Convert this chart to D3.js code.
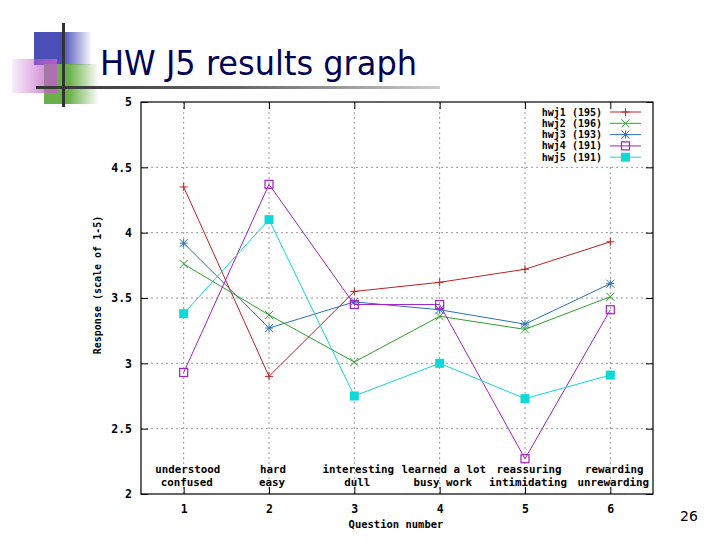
<!DOCTYPE html>
<html><head><meta charset="utf-8">
<script src="https://cdn.jsdelivr.net/npm/d3@7"></script>
<style>body{margin:0;background:#fff;}svg{display:block;}</style>
</head><body>
<svg id="c" width="720" height="540"></svg>
<script>
const questions = [1, 2, 3, 4, 5, 6];
const topLabels = ["understood", "hard", "interesting", "learned a lot", "reassuring", "rewarding"];
const bottomLabels = ["confused", "easy", "dull", "busy work", "intimidating", "unrewarding"];
const yTicks = [2, 2.5, 3, 3.5, 4, 4.5, 5];
const seriesNames = ["hwj1 (195)", "hwj2 (196)", "hwj3 (193)", "hwj4 (191)", "hwj5 (191)"];
const hwj1 = [4.35, 2.90, 3.55, 3.62, 3.72, 3.93];
const hwj2 = [3.76, 3.37, 3.01, 3.36, 3.26, 3.51];
const hwj3 = [3.92, 3.27, 3.47, 3.41, 3.30, 3.61];
const hwj4 = [2.93, 4.37, 3.45, 3.45, 2.27, 3.41];
const hwj5 = [3.38, 4.10, 2.75, 3.00, 2.73, 2.91];
const colors = ["#c02020", "#30a030", "#2a70b8", "#a020c0", "#10d8d8"];
const markers = ["plus", "cross", "star", "square", "fsquare"];

const svg = d3.select("#c");
const defs = svg.append("defs");
function grad(id, stops) {
  const g = defs.append("linearGradient").attr("id", id).attr("x1", "0").attr("x2", "1").attr("y1", "0").attr("y2", "0");
  stops.forEach(s => g.append("stop").attr("offset", s[0]).attr("stop-color", s[1]).attr("stop-opacity", s[2]));
}
grad("gblue", [[0, "#4a4fb8", 1], [0.5, "#4a4fb8", 1], [1, "#4a4fb8", 0]]);
grad("ggreen", [[0, "#6ab04a", 1], [0.45, "#6ab04a", 1], [1, "#6ab04a", 0]]);
grad("gpink", [[0, "#c060c8", 0.1], [1, "#c060c8", 0.9]]);
grad("gline", [[0, "#333", 1], [0.5, "#666", 1], [1, "#ccc", 1]]);

// decoration
svg.append("rect").attr("x", 34).attr("y", 32).attr("width", 58).attr("height", 33).attr("fill", "url(#gblue)");
svg.append("rect").attr("x", 44).attr("y", 64).attr("width", 55).attr("height", 40).attr("fill", "url(#ggreen)");
svg.append("rect").attr("x", 12).attr("y", 59).attr("width", 45).attr("height", 34).attr("fill", "url(#gpink)");
svg.append("rect").attr("x", 36).attr("y", 86).attr("width", 404).attr("height", 3).attr("fill", "url(#gline)");
svg.append("rect").attr("x", 62).attr("y", 23).attr("width", 3).attr("height", 84).attr("fill", "#333");

svg.append("text").attr("x", 100).attr("y", 75).attr("font-family", "DejaVu Sans, Verdana, sans-serif")
  .attr("font-size", 34).attr("fill", "#000055").attr("textLength", 317).attr("lengthAdjust", "spacingAndGlyphs")
  .text("HW J5 results graph");

svg.append("text").attr("x", 689).attr("y", 521).attr("text-anchor", "middle")
  .attr("font-family", "DejaVu Sans, sans-serif").attr("font-size", 14).attr("fill", "#000").text("26");

const L = 141, R = 653, T = 102, B = 494;
const x = d3.scaleLinear().domain([0.5, 6.5]).range([L, R]);
const y = d3.scaleLinear().domain([2, 5]).range([B, T]);
const mono = "DejaVu Sans Mono, Liberation Mono, monospace";

// grid
const g = svg.append("g");
g.selectAll(".gy").data(yTicks.slice(1, -1)).join("line")
  .attr("x1", L).attr("x2", R).attr("y1", d => y(d)).attr("y2", d => y(d))
  .attr("stroke", "#999").attr("stroke-dasharray", "2,3");
g.selectAll(".gx").data(questions).join("line")
  .attr("x1", d => x(d)).attr("x2", d => x(d)).attr("y1", T).attr("y2", B)
  .attr("stroke", "#999").attr("stroke-dasharray", "2,3");

// legend background
svg.append("rect").attr("x", 531).attr("y", T + 1).attr("width", R - 532).attr("height", 62).attr("fill", "#fff");

// axes
const axL = svg.append("g").attr("transform", `translate(${L},0)`)
  .call(d3.axisLeft(y).tickValues(yTicks).tickSize(-7).tickPadding(9).tickFormat(d => String(d)));
const axR = svg.append("g").attr("transform", `translate(${R},0)`)
  .call(d3.axisRight(y).tickValues(yTicks).tickSize(-7).tickFormat(""));
const axB = svg.append("g").attr("transform", `translate(0,${B})`)
  .call(d3.axisBottom(x).tickValues(questions).tickSize(-7).tickPadding(11).tickFormat(d3.format("d")));
const axT = svg.append("g").attr("transform", `translate(0,${T})`)
  .call(d3.axisTop(x).tickValues(questions).tickSize(-7).tickFormat(""));
[axL, axR, axB, axT].forEach(a => {
  a.select(".domain").remove();
  a.selectAll("line").attr("stroke", "#000");
  a.selectAll("text").attr("font-family", mono).attr("font-weight", "bold").attr("font-size", 11.5).attr("fill", "#000");
});
svg.append("rect").attr("x", L).attr("y", T).attr("width", R - L).attr("height", B - T)
  .attr("fill", "none").attr("stroke", "#000").attr("stroke-width", 1.2);

// category labels
const cat = svg.append("g").attr("font-family", mono).attr("font-weight", "bold").attr("font-size", 10.8).attr("text-anchor", "middle").attr("fill", "#000");
cat.selectAll(".t1").data(questions).join("text").attr("x", d => x(d) + 4).attr("y", 473).text((d, i) => topLabels[i]);
cat.selectAll(".t2").data(questions).join("text").attr("x", d => x(d) + 3).attr("y", 486).text((d, i) => bottomLabels[i]);

// axis titles
svg.append("text").attr("transform", `translate(101,285) rotate(-90)`).attr("text-anchor", "middle")
  .attr("font-family", mono).attr("font-weight", "bold").attr("font-size", 10).text("Response (scale of 1-5)");
svg.append("text").attr("x", 396).attr("y", 528).attr("text-anchor", "middle")
  .attr("font-family", mono).attr("font-weight", "bold").attr("font-size", 10.5).text("Question number");

function marker(sel, type, color, cx, cy) {
  const s = 4;
  if (type === "plus" || type === "star") {
    sel.append("path").attr("d", `M${cx - s},${cy}H${cx + s}M${cx},${cy - s}V${cy + s}`).attr("stroke", color).attr("fill", "none");
  }
  if (type === "cross" || type === "star") {
    sel.append("path").attr("d", `M${cx - s},${cy - s}L${cx + s},${cy + s}M${cx - s},${cy + s}L${cx + s},${cy - s}`).attr("stroke", color).attr("fill", "none");
  }
  if (type === "square") {
    sel.append("rect").attr("x", cx - 4).attr("y", cy - 4).attr("width", 8).attr("height", 8).attr("stroke", color).attr("fill", "none").attr("stroke-width", 1.2);
  }
  if (type === "fsquare") {
    sel.append("rect").attr("x", cx - 4.5).attr("y", cy - 4.5).attr("width", 9).attr("height", 9).attr("fill", color);
  }
}

const allSeries = [hwj1, hwj2, hwj3, hwj4, hwj5];
const line = d3.line().x((d, i) => x(questions[i])).y(d => y(d));
const plot = svg.append("g");
allSeries.forEach((vals, si) => {
  plot.append("path").attr("d", line(vals)).attr("fill", "none").attr("stroke", colors[si]).attr("stroke-width", 1);
  vals.forEach((v, i) => marker(plot, markers[si], colors[si], x(questions[i]), y(v)));
});

// legend
const leg = svg.append("g");
seriesNames.forEach((n, i) => {
  const ly = 112 + i * 11.3;
  leg.append("text").attr("x", 602).attr("y", ly + 3.5).attr("text-anchor", "end")
    .attr("font-family", mono).attr("font-weight", "bold").attr("font-size", 10).text(n);
  leg.append("line").attr("x1", 610).attr("x2", 641).attr("y1", ly).attr("y2", ly).attr("stroke", colors[i]);
  marker(leg, markers[i], colors[i], 625.5, ly);
});
</script>
</body></html>
